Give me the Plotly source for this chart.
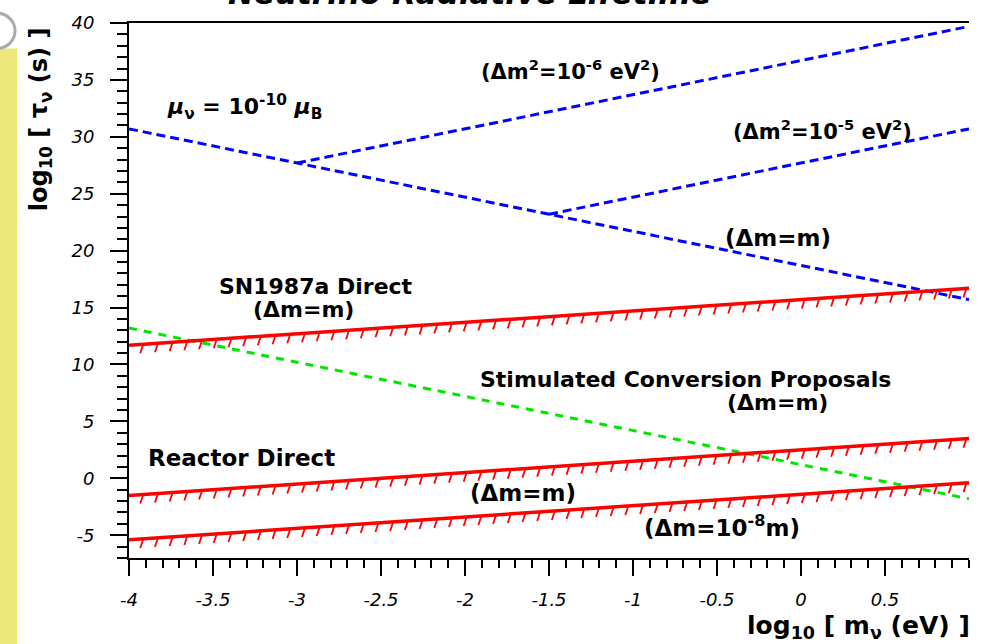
import plotly.graph_objects as go
import numpy as np

# ---- data ----
mass_ends = [-4.0, 1.0]                 # log10 m_nu (eV)
mu_dm_eq_m = [30.7, 15.7]               # blue, Δm = m, μ = 1e-10 μB
dm2_1e6_x = [-3.0, 1.0]
dm2_1e6_y = [27.7, 39.7]
dm2_1e5_x = [-1.5, 1.0]
dm2_1e5_y = [23.2, 30.7]
sn1987a_direct = [11.7, 16.7]
reactor_dm_m = [-1.5, 3.5]
reactor_dm_1e8 = [-5.4, -0.4]
stimulated = [13.2, -1.8]

x_ticks = [-4, -3.5, -3, -2.5, -2, -1.5, -1, -0.5, 0, 0.5]
x_ticktext = ["-4", "-3.5", "-3", "-2.5", "-2", "-1.5", "-1", "-0.5", "0", "0.5"]
y_ticks = [-5, 0, 5, 10, 15, 20, 25, 30, 35, 40]
y_ticktext = ["-5", "0", "5", "10", "15", "20", "25", "30", "35", "40"]

BLUE = "#0000ff"
RED = "#ff0000"
GREEN = "#00e600"

fig = go.Figure()

def dashed(x, y, color, dash):
    fig.add_trace(go.Scatter(x=x, y=y, mode="lines",
                             line=dict(color=color, width=3, dash=dash),
                             hoverinfo="skip", showlegend=False))

dashed(mass_ends, mu_dm_eq_m, BLUE, "9px,5px")
dashed(dm2_1e6_x, dm2_1e6_y, BLUE, "9px,5px")
dashed(dm2_1e5_x, dm2_1e5_y, BLUE, "9px,5px")
dashed(mass_ends, stimulated, GREEN, "8px,7px")

def hatched(x, y):
    fig.add_trace(go.Scatter(x=x, y=y, mode="lines",
                             line=dict(color=RED, width=3.5),
                             hoverinfo="skip", showlegend=False))
    slope = (y[1] - y[0]) / (x[1] - x[0])
    hx, hy = [], []
    xs = np.arange(x[0] + 0.085, x[1] + 1e-9, 0.0875)
    for xv in xs:
        yv = y[0] + slope * (xv - x[0])
        hx += [xv, xv - 0.018, None]
        hy += [yv, yv - 0.8, None]
    fig.add_trace(go.Scatter(x=hx, y=hy, mode="lines",
                             line=dict(color=RED, width=1.8),
                             hoverinfo="skip", showlegend=False))

hatched(mass_ends, sn1987a_direct)
hatched(mass_ends, reactor_dm_m)
hatched(mass_ends, reactor_dm_1e8)

FONT = "DejaVu Sans"
def label(text, x, y, size=23, anchor="center"):
    fig.add_annotation(x=x, y=y, xref="x", yref="y", text=text, showarrow=False,
                       xanchor=anchor, yanchor="middle", borderpad=0,
                       font=dict(family=FONT, size=size, color="black", weight="bold"))

label("(Δm<sup>2</sup>=10<sup>-6</sup> eV<sup>2</sup>)", -1.375, 35.86, 21)
label("(Δm<sup>2</sup>=10<sup>-5</sup> eV<sup>2</sup>)", 0.13, 30.6, 21)
label("<i>μ</i><sub>ν</sub> = 10<sup>-10</sup> <i>μ</i><sub>B</sub>", -3.31, 32.6, 22)
label("(Δm=m)", -0.137, 21.1, 23)
label("SN1987a Direct", -2.887, 16.85, 22)
label("(Δm=m)", -2.96, 14.85, 22)
label("Stimulated Conversion Proposals", -0.69, 8.65, 22)
label("(Δm=m)", -0.137, 6.65, 22)
label("Reactor Direct", -3.33, 1.8, 23)
label("(Δm=m)", -1.655, -1.3, 23)
label("(Δm=10<sup>-8</sup>m)", -0.47, -4.2, 23)

# axis titles as annotations
fig.add_annotation(x=-0.106, y=0.82, xref="paper", yref="paper",
                   text="log<sub>10</sub> [ τ<sub>ν</sub> (s) ]", textangle=-90,
                   showarrow=False, xanchor="center", yanchor="middle",
                   font=dict(family=FONT, size=24, color="black", weight="bold"))
fig.add_annotation(x=0.733, y=-0.129, xref="paper", yref="paper",
                   text="log<sub>10</sub> [ m<sub>ν</sub> (eV) ]",
                   showarrow=False, xanchor="left", yanchor="middle",
                   font=dict(family=FONT, size=25, color="black", weight="bold"))
# title (cut off at the top as in the reference)
fig.add_annotation(x=0.406, y=1.0, xref="paper", yref="paper",
                   text="Neutrino Radiative Lifetime", showarrow=False,
                   xanchor="center", yanchor="bottom", yshift=10,
                   font=dict(family=FONT, size=31, color="black", weight="bold", style="italic"))

# decorative yellow strip on the left
fig.add_shape(type="rect", xref="paper", yref="paper",
              x0=-129 / 840, x1=(17 - 129) / 840, y0=-0.2, y1=(558 - 40) / 544,
              fillcolor="#eee77a", line=dict(width=0), layer="below")
fig.add_shape(type="circle", xref="paper", yref="paper",
              x0=-150 / 840, x1=-114 / 840, y0=(558 - 40) / 544, y1=(558 - 4) / 544,
              fillcolor="rgba(0,0,0,0)", line=dict(color="#aaaaaa", width=3), layer="below")

tickfont = dict(family="DejaVu Sans", size=18, color="black", style="italic")

fig.update_xaxes(range=[-4, 1], tickmode="array", tickvals=x_ticks, ticktext=x_ticktext,
                 showgrid=False, zeroline=False, showline=True, linecolor="black",
                 linewidth=2, mirror=True, ticks="outside", ticklen=16, tickwidth=1.5,
                 tickcolor="black", tickfont=tickfont, ticklabelstandoff=8,
                 minor=dict(tickmode="linear", tick0=-4, dtick=0.1, ticks="outside",
                            ticklen=8, tickwidth=1.5, tickcolor="black", showgrid=False))
fig.update_yaxes(range=[-7, 40], tickmode="array", tickvals=y_ticks, ticktext=y_ticktext,
                 showgrid=False, zeroline=False, showline=True, linecolor="black",
                 linewidth=2, mirror=False, ticks="outside", ticklen=17, tickwidth=1.5,
                 tickcolor="black", tickfont=tickfont, ticklabelstandoff=12,
                 minor=dict(tickmode="linear", tick0=0, dtick=1, ticks="outside",
                            ticklen=10, tickwidth=1.5, tickcolor="black", showgrid=False))

fig.update_layout(width=985, height=644, paper_bgcolor="white", plot_bgcolor="white",
                  margin=dict(l=129, r=16, t=14, b=86), showlegend=False)

fig.write_html("out.html", config={"displayModeBar": False},
               post_script="document.body.style.margin='0';")
